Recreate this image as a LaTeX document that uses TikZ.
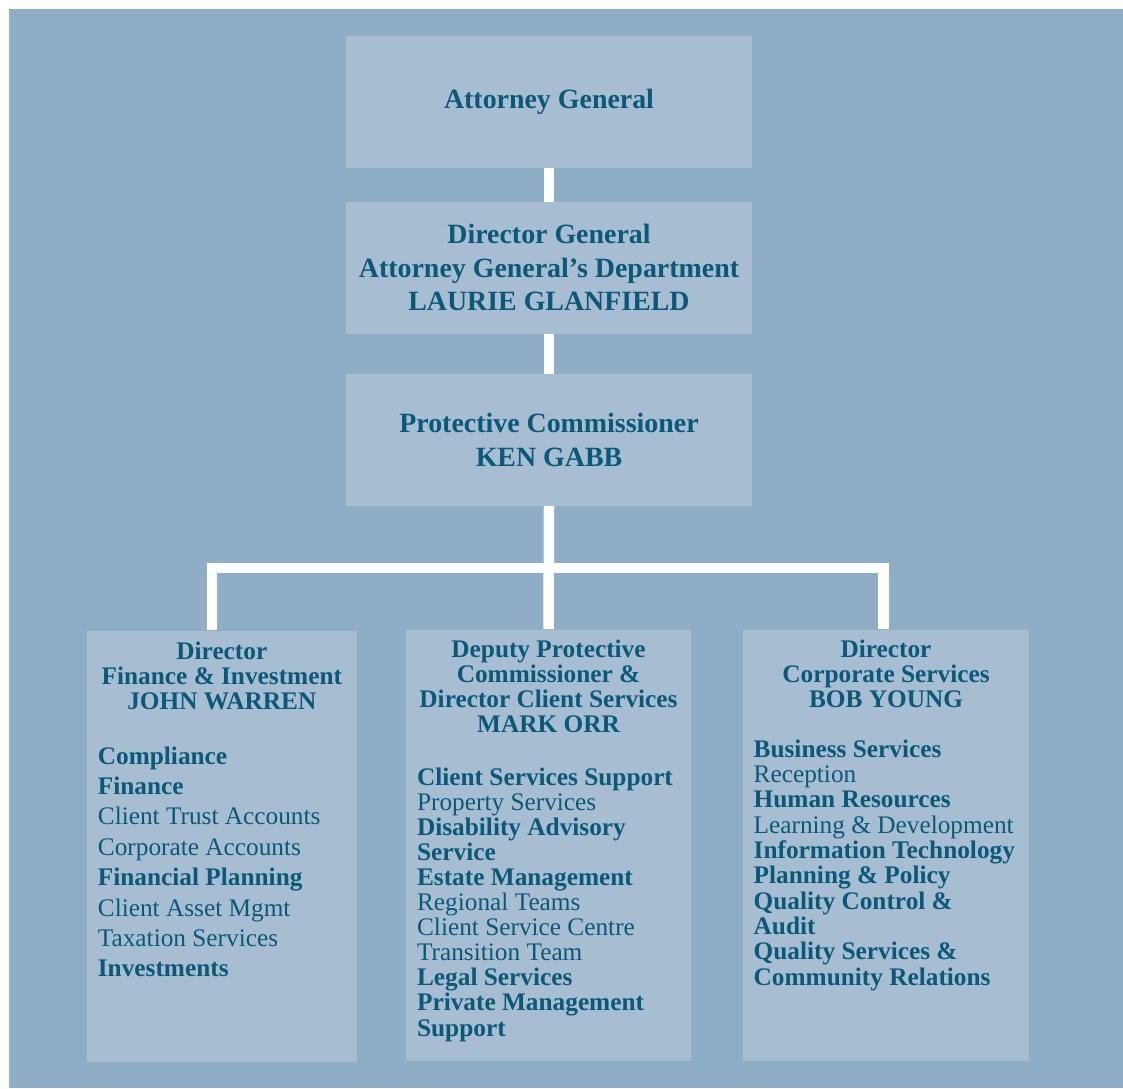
\documentclass[tikz,border=0pt]{standalone}
\usepackage{fontspec}
\setmainfont{Liberation Serif}

\definecolor{bgblue}{RGB}{143,173,197}
\definecolor{boxblue}{RGB}{167,190,210}
\definecolor{textblue}{RGB}{11,88,120}

\tikzset{
  topbox/.style={fill=boxblue, minimum width=203pt, minimum height=65.8pt, inner sep=0pt,
    align=center, text=textblue, font=\fontsize{13.95}{16.7}\selectfont\bfseries},
  lowbox/.style={fill=boxblue, minimum height=215.8pt, inner sep=0pt},
  hdline/.style={anchor=base, inner sep=0pt, text=textblue, font=\fontsize{12.65}{12.65}\selectfont\bfseries},
  listline/.style={anchor=base west, inner sep=0pt, text=textblue, font=\fontsize{12.65}{12.65}\selectfont},
  bar/.style={draw=white, line width=5.25pt, line join=miter}
}

\begin{document}
\begin{tikzpicture}[x=0.5pt, y=-0.5pt]
\useasboundingbox (0,0) rectangle (1123,1088);
\fill[bgblue] (9,9) rectangle (1123,1088);

% top of the chart
\node[topbox] (ag) at (549,101.8) {Attorney General};
\node[topbox] (dg) at (549,267.8) {Director General\\Attorney General’s Department\\LAURIE GLANFIELD};
\node[topbox] (pc) at (549,439.8) {Protective Commissioner\\KEN GABB};

% the three branches
\node[lowbox, minimum width=134.85pt] (fin) at (221.85,846.35) {};
\node[lowbox, minimum width=142.5pt] (cli) at (548.5,845.35) {};
\node[lowbox, minimum width=143pt] (cor) at (886,845.35) {};

\coordinate (busL) at (211.9,568);
\coordinate (busR) at (883.3,568);

\draw[bar] (ag.south) -- (dg.north);
\draw[bar] (dg.south) -- (pc.north);
\draw[bar] (pc.south) -- (cli.north);
\draw[bar] (busL |- fin.north) -- (busL) -- (busR) -- (busR |- cor.north);

\foreach \t [count=\i] in {Director, Finance \& Investment, JOHN WARREN}
  \node[hdline] (finh\i) at (221.85,{659+25.15*(\i-1)}) {\t};
\foreach \t [count=\i] in {Deputy Protective, Commissioner \&, Director Client Services, MARK ORR}
  \node[hdline] (clih\i) at (548.5,{657+25.1*(\i-1)}) {\t};
\foreach \t [count=\i] in {Director, Corporate Services, BOB YOUNG}
  \node[hdline] (corh\i) at (886,{657+25.1*(\i-1)}) {\t};

\foreach \f/\t [count=\i] in {\bfseries/Compliance, \bfseries/Finance, \mdseries/Client Trust Accounts,
    \mdseries/Corporate Accounts, \bfseries/Financial Planning, \mdseries/Client Asset Mgmt,
    \mdseries/Taxation Services, \bfseries/Investments}
  \node[listline] (fin\i) at (97.5,{764+30.4*(\i-1)}) {\f\t};

\foreach \f/\t [count=\i] in {\bfseries/Client Services Support, \mdseries/Property Services,
    \bfseries/Disability Advisory, \bfseries/Service, \bfseries/Estate Management,
    \mdseries/Regional Teams, \mdseries/Client Service Centre, \mdseries/Transition Team,
    \bfseries/Legal Services, \bfseries/Private Management, \bfseries/Support}
  \node[listline] (cli\i) at (416.7,{785+25.1*(\i-1)}) {\f\t};

\foreach \f/\t [count=\i] in {\bfseries/Business Services, \mdseries/Reception,
    \bfseries/Human Resources, \mdseries/Learning \& Development, \bfseries/Information Technology,
    \bfseries/Planning \& Policy, \bfseries/Quality Control \&, \bfseries/Audit,
    \bfseries/Quality Services \&, \bfseries/Community Relations}
  \node[listline] (cor\i) at (753.3,{757.3+25.3*(\i-1)}) {\f\t};

\end{tikzpicture}
\end{document}
